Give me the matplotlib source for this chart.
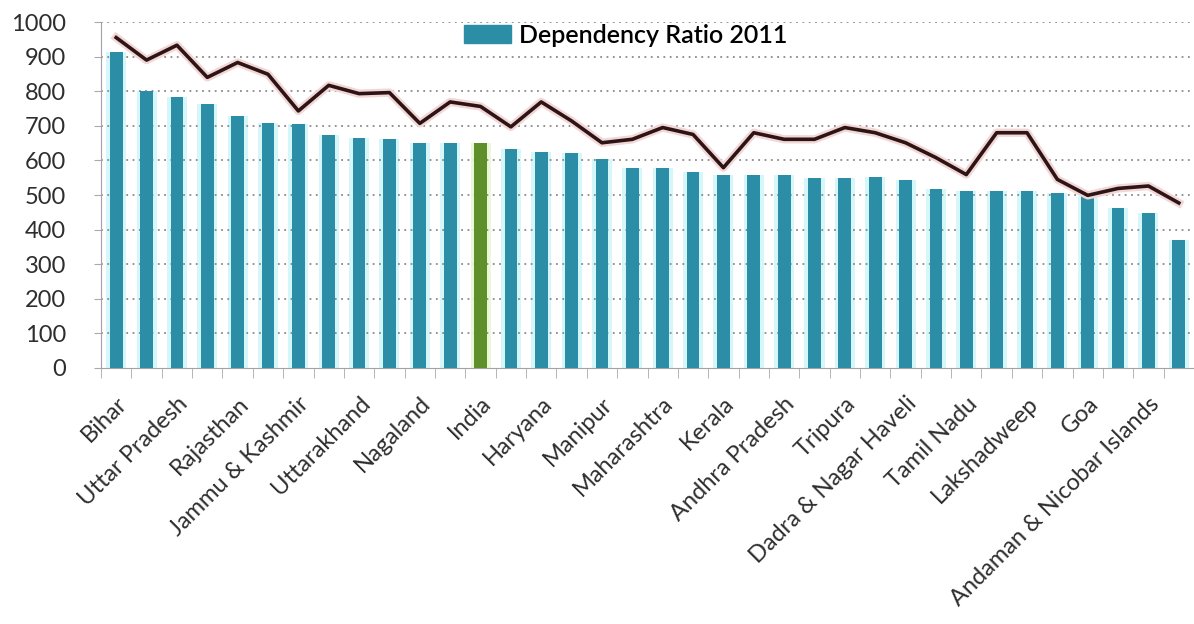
import numpy as np
import matplotlib.pyplot as plt
from matplotlib.patches import Patch

# Dependency ratio per state, 2011 (bars) and 2001 (line), ordered by 2011 value
ratio_2011 = [912, 801, 782, 764, 728, 707, 705, 673, 664, 662, 651, 650,
              650, 632, 624, 622, 605, 579, 577, 566, 557, 557, 557, 550,
              550, 551, 542, 516, 511, 511, 511, 506, 497, 463, 448, 371]
ratio_2001 = [955, 890, 933, 840, 883, 849, 743, 817, 793, 796, 707, 769,
              756, 697, 769, 714, 651, 661, 695, 675, 579, 680, 661, 661,
              695, 680, 651, 608, 559, 680, 680, 545, 499, 519, 526, 477]
# only every other state gets a label on the axis
labels = ["Bihar", "Uttar Pradesh", "Rajasthan", "Jammu & Kashmir",
          "Uttarakhand", "Nagaland", "India", "Haryana", "Manipur",
          "Maharashtra", "Kerala", "Andhra Pradesh", "Tripura",
          "Dadra & Nagar Haveli", "Tamil Nadu", "Lakshadweep", "Goa",
          "Andaman & Nicobar Islands"]
india_idx = 12

teal = "#2b8ea6"
green = "#5f8f2a"

x = np.arange(len(ratio_2011))
bar_colors = [green if i == india_idx else teal for i in x]
halo_colors = ["#eaf8d8" if i == india_idx else "#d6f7fa" for i in x]

fig = plt.figure(figsize=(11.94, 6.24), dpi=100)
ax = fig.add_axes([0.0846, 0.4103, 0.9154, 0.5544])

# dotted gridlines
for v in range(100, 1001, 100):
    ax.axhline(v, linestyle=(0, (1, 2.5)), color="#8a8a8a", lw=1.3, zorder=2)

# soft glow behind each bar
ax.bar(x, ratio_2011, width=0.66, color=halo_colors, zorder=1)
ax.bar(x, ratio_2011, width=0.42, color=bar_colors, zorder=3)

# 2001 line with a faint pink halo
ax.plot(x, ratio_2001, color="#f3d6d6", lw=6, solid_joinstyle="round", zorder=4)
ax.plot(x, ratio_2001, color="#2d1515", lw=2.6, solid_joinstyle="round", zorder=5)

ax.set_ylim(0, 1000)
ax.set_xlim(-0.5, 35.26)
ax.set_yticks(range(0, 1001, 100))

ax.set_xticks(x[::2])
ax.set_xticklabels(labels, rotation=45, ha="right", rotation_mode="anchor",
                   fontsize=17, color="#2e2e2e", family="Lato")
ax.set_xticks(np.arange(-0.5, 36, 1), minor=True)
ax.tick_params(axis="x", which="major", length=0, pad=18)
ax.tick_params(axis="x", which="minor", length=7, color="#aaaaaa", direction="out")
ax.tick_params(axis="y", length=5, color="#aaaaaa", labelsize=17,
               labelcolor="#2e2e2e", pad=20)
for t in ax.get_yticklabels():
    t.set_family("Lato")

for side in ["top", "right"]:
    ax.spines[side].set_visible(False)
for side in ["left", "bottom"]:
    ax.spines[side].set_color("#a8a0a8")

ax.legend(handles=[Patch(color=teal, label="Dependency Ratio 2011")],
          loc="upper center", bbox_to_anchor=(0.48, 1.028), frameon=False,
          prop={"family": "Lato", "size": 18, "weight": "semibold"},
          handlelength=1.9, handleheight=0.7, handletextpad=0.3,
          borderaxespad=0.05)

fig.savefig("out.png", dpi=100)
